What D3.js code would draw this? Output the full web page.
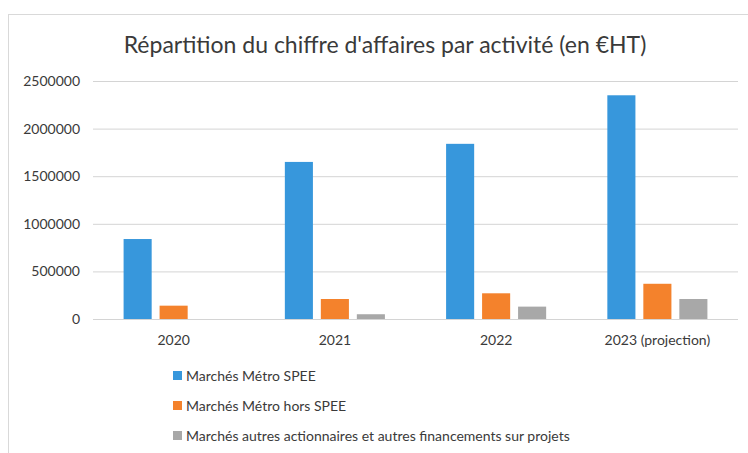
<!DOCTYPE html>
<html>
<head>
<meta charset="utf-8">
<script src="https://d3js.org/d3.v7.min.js"></script>
<style>
    body { margin: 0; background: #ffffff; }
    text { font-family: Lato, "Open Sans", sans-serif; fill: #3a3a3a; }
</style>
</head>
<body>
<svg id="drawing_region"></svg>
<script>
const title = "Répartition du chiffre d'affaires par activité (en €HT)";
const years = ["2020", "2021", "2022", "2023 (projection)"];
const seriesNames = [
    "Marchés Métro SPEE",
    "Marchés Métro hors SPEE",
    "Marchés autres actionnaires et autres financements sur projets"
];
const metroSpee = [840000, 1650000, 1840000, 2350000];
const metroHorsSpee = [140000, 210000, 270000, 370000];
const autres = [0, 50000, 130000, 210000];
const yTicks = [0, 500000, 1000000, 1500000, 2000000, 2500000];
const colors = ["#3797dc", "#f4822c", "#a8a8a8"];

const seriesValues = [metroSpee, metroHorsSpee, autres];
const data = years.map( (y, i) => ({
    year: y,
    values: seriesNames.map( (s, k) => ({ key: s, value: seriesValues[k][i] }) )
}));

class GroupedBar {

    constructor( config, data ) {
        this.config = {
            parent: config.parent,
            width: config.width || 256,
            height: config.height || 256,
            margin: config.margin || {top:10, right:10, bottom:10, left:10}
        }
        this.data = data;
        this.init();
    }

    init() {
        let self = this;

        self.svg = d3.select( self.config.parent )
            .attr('width', self.config.width)
            .attr('height', self.config.height);

        // chart frame
        self.svg.append('rect')
            .attr('x', 8.5)
            .attr('y', 14.5)
            .attr('width', self.config.width)
            .attr('height', self.config.height)
            .attr('fill', 'none')
            .attr('stroke', '#d9d9d9');

        self.chart = self.svg.append('g')
            .attr('transform', `translate(${self.config.margin.left}, ${self.config.margin.top})`);

        self.inner_width = self.config.width - self.config.margin.left - self.config.margin.right;
        self.inner_height = self.config.height - self.config.margin.top - self.config.margin.bottom;

        self.xscale = d3.scaleBand()
            .range( [0, self.inner_width] )
            .padding(0);

        self.x1scale = d3.scaleBand()
            .paddingInner(0.22)
            .paddingOuter(0.85);

        self.yscale = d3.scaleLinear()
            .range( [self.inner_height, 0] );

        self.yaxis = d3.axisLeft( self.yscale )
            .tickValues(yTicks)
            .tickSize(-self.inner_width)
            .tickPadding(13)
            .tickFormat(d3.format('d'));

        self.yaxis_group = self.chart.append('g');

        self.xaxis = d3.axisBottom( self.xscale )
            .tickSize(0)
            .tickPadding(16);

        self.xaxis_group = self.chart.append('g')
            .attr('transform', `translate(0, ${self.inner_height})`);
    }

    update() {
        let self = this;

        self.xscale.domain( self.data.map( d => d.year ) );
        self.x1scale.domain( seriesNames ).range( [0, self.xscale.bandwidth()] );
        self.yscale.domain( [0, 2500000] );

        self.svg.append("text")
            .attr("x", 385)
            .attr("y", 53)
            .attr("text-anchor", "middle")
            .attr("font-size", 23)
            .text(title);

        self.render();
    }

    render() {
        let self = this;

        self.yaxis_group
            .call( self.yaxis )
            .call( g => g.select('.domain').remove() )
            .call( g => g.selectAll('.tick line').attr('stroke', '#d4d4d4') )
            .call( g => g.selectAll('.tick text').attr('font-size', 14).attr('fill', '#3a3a3a') );

        self.chart.selectAll(".group")
            .data(self.data)
            .join("g")
            .attr("class", "group")
            .attr("transform", d => `translate(${self.xscale( d.year )}, 0)`)
            .selectAll("rect")
            .data( d => d.values )
            .join("rect")
            .attr("x", d => self.x1scale( d.key ) )
            .attr("y", d => self.yscale( d.value ) )
            .attr("width", self.x1scale.bandwidth())
            .attr("height", d => self.inner_height - self.yscale( d.value ) )
            .attr("fill", (d, i) => colors[i] );

        self.xaxis_group
            .call( self.xaxis )
            .call( g => g.select('.domain').remove() )
            .call( g => g.selectAll('.tick text').attr('font-size', 14).attr('fill', '#3a3a3a') );

        // legend
        const legend = self.svg.append('g')
            .attr('transform', 'translate(173, 376)');

        const item = legend.selectAll('g')
            .data(seriesNames)
            .join('g')
            .attr('transform', (d, i) => `translate(0, ${i * 30})`);

        item.append('rect')
            .attr('x', 0)
            .attr('y', -5)
            .attr('width', 9)
            .attr('height', 9)
            .attr('fill', (d, i) => colors[i]);

        item.append('text')
            .attr('x', 13)
            .attr('y', 5)
            .attr('font-size', 14)
            .text(d => d);
    }
}

var config = {
    parent: '#drawing_region',
    width: 748,
    height: 453,
    margin: {top:81, right:10, bottom:134, left:93}
};

const chart = new GroupedBar( config, data );
chart.update();
</script>
</body>
</html>
